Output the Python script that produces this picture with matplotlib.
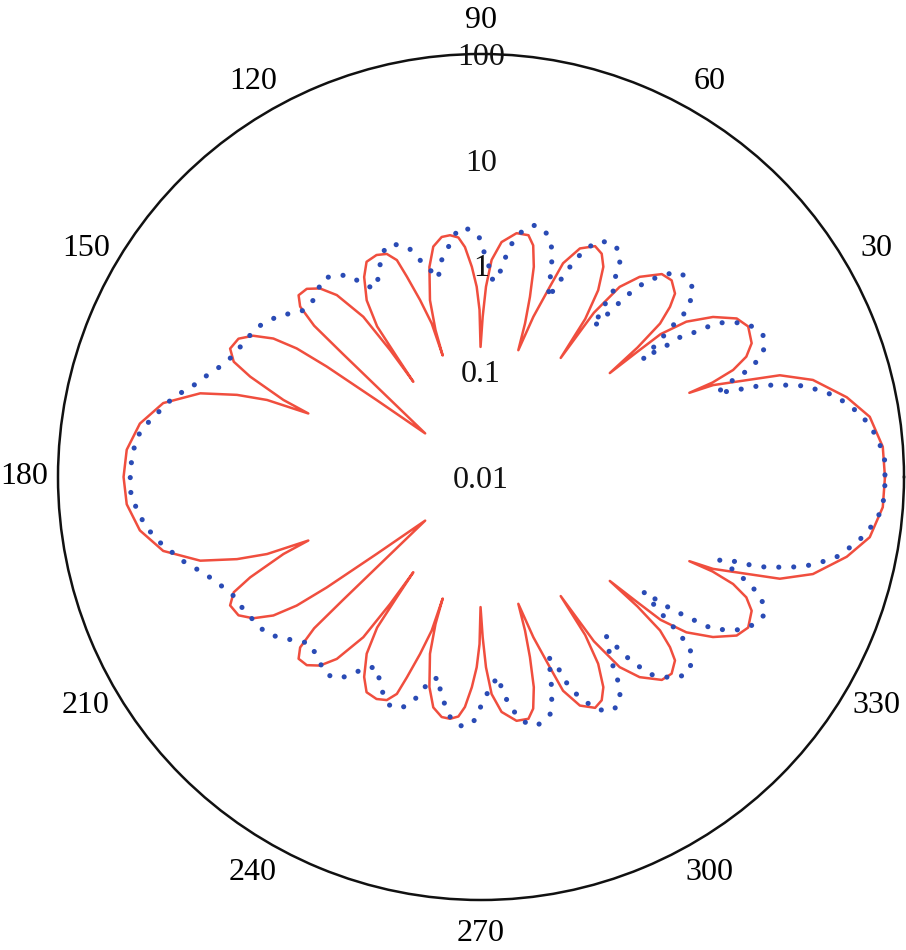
import matplotlib
matplotlib.use("Agg")
import matplotlib.pyplot as plt
import numpy as np
from matplotlib.ticker import NullLocator

plt.rcParams["font.family"] = ["Liberation Serif", "DejaVu Serif"]

# radial axis (log), labels drawn along the 90 deg direction
r_ticks = [0.01, 0.1, 1, 10, 100]
r_tick_labels = ["0.01", "0.1", "1", "10", "100"]
theta_ticks = [0, 30, 60, 90, 120, 150, 180, 210, 240, 270, 300, 330]
theta_tick_labels = ["", "30", "60", "90", "120", "150", "180", "210", "240", "270", "300", "330"]

# red (solid) pattern, angle in degrees, level in dB (20*log10 of the plotted value)
red_deg = [
    0, 4.3, 8.8, 12.3, 16.3, 18.8, 21.6, 22.0,
    22.2, 23.0, 24.4, 26.3, 29.4, 31.8, 34.6, 37.1, 38.5, 38.7, 38.9,
    39.6, 40.6, 42.0, 43.4, 45.9, 48.3, 51.6, 53.9, 55.5, 56.2,
    56.6, 57.9, 59.8, 61.6, 63.7, 66.6, 69.0, 70.1, 71.9, 73.6,
    74.0, 74.8, 75.9, 77.3, 78.9, 81.7, 85.0, 87.2, 88.5, 89.4, 90.2,
    90.5, 91.3, 92.5, 94.0, 95.4, 97.3, 99.3, 101.7, 103.8, 106.1, 107.2, 107.5,
    107.8, 109.0, 110.3, 111.2, 112.9, 115.2, 118.0, 120.3, 122.9, 124.6, 125.0, 125.4,
    125.6, 126.3, 128.4, 130.5, 132.8, 135.1, 136.7, 137.8, 138.3, 139.1, 142.0,
    143.6, 144.4, 145.1, 146.3, 148.2, 150.3, 152.9, 155.0, 156.5, 158.7, 159.8,
    160.2, 161.4, 163.4, 166.9, 171.1, 175.6, 180.0,
    184.4, 188.9, 193.1, 196.6, 198.6, 199.8,
    200.2, 201.3, 203.5, 205.0, 207.1, 209.7, 211.8, 213.7, 214.9, 215.6, 216.4,
    218.0, 220.9, 221.7, 222.2, 223.3, 224.9, 227.2, 229.5, 231.6, 233.7, 234.4,
    234.6, 235.0, 235.4, 237.1, 239.7, 242.0, 244.8, 247.1, 248.8, 249.7, 251.0, 252.2,
    252.5, 252.8, 253.9, 256.2, 258.3, 260.7, 262.7, 264.6, 266.0, 267.5, 268.7, 269.5,
    269.8, 270.6, 271.5, 272.8, 275.0, 278.3, 281.1, 282.7, 284.1, 285.2, 286.0,
    286.4, 288.1, 289.9, 291.0, 293.4, 296.3, 298.4, 300.2, 302.1, 303.4,
    303.8, 304.5, 306.1, 308.4, 311.7, 314.1, 316.6, 318.0, 319.4, 320.4,
    321.1, 321.3, 321.5, 322.9, 325.4, 328.2, 330.6, 333.7, 335.6, 337.0, 337.8,
    338.0, 338.4, 341.2, 343.7, 347.7, 351.2, 355.7, 360.0,
]
red_db = [
    36.4, 36.2, 34.4, 30.8, 25.4, 19.7, 7.2, 2.5,
    7.3, 11.8, 15.1, 17.1, 18.0, 16.9, 13.3, 8.7, 3.4, -2.4, -8.7,
    -1.6, 4.6, 8.1, 10.5, 11.8, 11.4, 8.3, 4.5, -2.3, -12.9,
    -4.2, 1.7, 6.0, 8.0, 8.7, 7.1, 3.3, -1.7, -8.1, -15.0,
    -9.8, -4.7, 1.0, 4.9, 6.6, 6.6, 4.6, 1.1, -4.0, -9.7, -15.4,
    -8.4, -4.0, -0.2, 3.6, 5.5, 6.1, 6.0, 4.5, 0.9, -5.2, -10.9, -15.9,
    -9.5, -4.6, 0.4, 4.0, 5.8, 6.4, 6.1, 3.8, -0.2, -5.4, -12.2, -17.9,
    -10.5, -2.4, 3.9, 6.9, 8.5, 8.7, 7.0, 2.6, -5.0, -13.9, -26.6,
    -15.5, -4.1, 2.5, 7.2, 10.7, 12.8, 13.3, 11.6, 7.6, 0.1, -5.2,
    3.0, 8.7, 15.4, 21.7, 25.3, 27.2, 27.6,
    27.2, 25.3, 21.7, 15.4, 8.7, 3.0,
    -5.2, 0.1, 7.6, 11.6, 13.3, 12.8, 10.7, 7.2, 2.5, -4.1, -15.5,
    -26.6, -13.9, -5.0, 2.6, 7.0, 8.7, 8.5, 6.9, 3.9, -2.4, -10.5,
    -17.9, -12.2, -5.4, -0.2, 3.8, 6.1, 6.4, 5.8, 4.0, 0.4, -4.6, -9.5,
    -15.9, -10.9, -5.2, 0.9, 4.5, 6.0, 6.1, 5.5, 3.6, -0.2, -4.0, -8.4,
    -15.4, -9.7, -4.0, 1.1, 4.6, 6.6, 6.6, 4.9, 1.0, -4.7, -9.8,
    -15.0, -8.1, -1.7, 3.3, 7.1, 8.7, 8.0, 6.0, 1.7, -4.2,
    -12.9, -2.3, 4.5, 8.3, 11.4, 11.8, 10.5, 8.1, 4.6, -1.6,
    -8.7, -2.4, 3.4, 8.7, 13.3, 16.9, 18.0, 17.1, 15.1, 11.8, 7.3,
    2.5, 7.2, 19.7, 25.4, 30.8, 34.4, 36.2, 36.4,
]

# blue (dotted) pattern, angle in degrees, level in dB
blue_deg = [
    0.3, 2.4, 4.6, 6.3, 7.9, 9.5, 11.4, 13.1, 14.3, 15.6, 16.4, 17.2, 18.1, 18.5, 19.0, 19.6,
    21.2, 21.8, 22.9, 24.6, 26.7, 29.5, 31.1, 32.7, 33.6, 34.2, 35.1, 35.3, 35.8, 36.0,
    38.3, 38.7, 39.8, 41.5, 44.2, 46.4, 47.9, 49.4, 50.6, 51.3, 51.8, 52.3, 53.2,
    54.3, 54.5, 56.0, 57.0, 58.6, 61.3, 63.8, 65.4, 66.8, 67.3, 68.5, 69.4,
    70.7, 71.7, 72.8, 74.9, 77.7, 80.0, 82.2, 83.1, 84.4, 85.0,
    87.2, 88.0, 89.4, 90.2, 92.5, 95.2, 98.6, 100.9, 102.1,
    103.8, 105.7, 107.3, 109.6, 112.4, 114.9, 116.5, 119.3,
    121.5, 122.8, 124.9, 128.4, 133.5, 136.5, 138.9, 141.1, 146.3, 154.2, 157.1,
    159.1, 161.0, 163.0, 164.9, 166.8, 168.6, 170.6, 172.4, 174.4, 176.7, 178.9,
    181.3, 183.8, 185.6, 187.8, 189.4, 191.6, 193.2, 195.3, 197.0, 199.1, 200.9,
    203.2, 205.7, 208.6, 211.2, 213.9, 216.7, 219.1, 221.4, 224.2,
    227.2, 231.9, 235.0, 237.0, 239.0, 241.3, 243.4, 245.6, 247.9, 250.9, 253.1,
    254.8, 255.9, 258.5, 259.2, 261.0, 262.6, 265.0, 268.1, 271.0, 272.9, 275.0,
    275.6, 276.9, 278.5, 280.8, 283.0, 286.2, 287.5, 288.6, 289.7, 290.5,
    292.0, 292.6, 293.5, 295.1, 296.9, 299.6, 301.7, 303.5, 304.5, 305.7, 308.2,
    308.6, 309.0, 309.9, 310.9, 312.7, 314.6, 316.6, 318.8, 320.7, 321.6, 322.2, 323.0, 324.0, 324.8,
    325.0, 325.2, 325.7, 326.2, 326.7, 327.9, 329.3, 331.5, 333.8, 335.9, 337.6, 338.7, 339.8, 340.8,
    341.6, 341.9, 342.4, 343.2, 344.0, 345.0, 346.1, 347.3, 348.9, 350.6, 352.5, 354.3, 356.3, 358.2, 360.0,
]
blue_db = [
    36.4, 36.4, 35.7, 34.9, 33.9, 32.6, 30.5, 28.4, 26.1, 23.9, 21.5, 18.8, 15.8, 12.9, 10.1, 7.3,
    11.5, 14.4, 16.9, 19.1, 19.7, 18.4, 16.5, 14.0, 11.2, 8.5, 5.9, 3.1, 0.2, -2.2,
    6.3, 9.0, 11.4, 13.6, 14.3, 13.6, 11.4, 9.1, 6.4, 3.5, 1.0, -1.7, -4.5,
    -0.4, 3.0, 5.3, 8.2, 10.2, 10.7, 9.6, 7.2, 4.3, 2.1, -1.0, -3.9,
    -0.5, 2.6, 5.3, 7.7, 8.8, 7.7, 5.2, 2.9, 0.3, -2.6,
    -2.5, 0.4, 2.9, 5.1, 6.9, 7.2, 3.4, 1.1, -1.6,
    0.3, 2.6, 5.1, 6.7, 7.2, 5.2, 3.0, 0.9,
    2.6, 5.1, 6.6, 8.0, 6.1, 5.9, 7.1, 8.8, 11.0, 12.3, 13.6,
    14.9, 16.2, 17.5, 19.6, 21.0, 22.2, 23.7, 25.0, 25.7, 26.1, 26.3,
    26.4, 26.2, 25.1, 24.4, 23.4, 21.9, 20.5, 19.0, 17.4, 15.5, 14.3,
    13.0, 11.9, 11.5, 11.0, 10.7, 9.9, 8.3, 6.8, 5.1,
    5.9, 7.5, 6.5, 4.3, 2.0, 1.1, 2.9, 4.9, 6.5, 6.3, 4.4,
    1.7, -0.6, -1.2, 1.3, 3.6, 5.7, 7.3, 6.6, 1.8, -0.6, -2.1,
    0.4, 3.1, 5.5, 7.7, 8.1, 6.8, 4.5, 1.8, -1.3, -3.7,
    -1.0, 2.2, 4.5, 7.1, 9.4, 10.7, 10.0, 7.6, 4.7, 1.8, -1.6,
    1.1, 3.8, 6.9, 9.5, 11.5, 13.2, 13.9, 13.0, 11.1, 8.0, 5.6, 2.3, -0.5, -2.4,
    0.5, 3.5, 6.3, 9.1, 12.1, 14.4, 16.6, 18.6, 19.5, 18.5, 16.0, 13.6, 10.8, 7.8,
    10.6, 13.5, 16.3, 19.0, 21.7, 24.4, 26.6, 28.9, 30.7, 32.6, 34.2, 35.5, 36.2, 36.4, 36.4,
]

fig = plt.figure(figsize=(9.06, 9.5), dpi=100)
ax = fig.add_axes([58 / 906, 50 / 950, 846 / 906, 846 / 950], projection="polar")

ax.plot(np.deg2rad(red_deg), 10 ** (np.array(red_db) / 20), color="#f04e3e", lw=1.8, zorder=3)
ax.plot(np.deg2rad(blue_deg), 10 ** (np.array(blue_db) / 20), color="#2a4bb5", lw=3.7,
        linestyle=(0, (0.01, 2.9)), dash_capstyle="round", zorder=4)

ax.set_rscale("log")
ax.set_rlim(0.01, 100)
ax.set_yticks(r_ticks)
ax.set_yticklabels([])
ax.yaxis.set_minor_locator(NullLocator())
ax.grid(False)
ax.spines["polar"].set_linewidth(1.8)
ax.spines["polar"].set_color("#111111")

ax.set_thetagrids(theta_ticks, theta_tick_labels, fontsize=23)
ax.tick_params(axis="x", pad=17, length=0)
ax.tick_params(axis="y", length=0)

for val, lab in zip(r_ticks, r_tick_labels):
    ax.text(np.deg2rad(90), val, lab, ha="center", va="center_baseline", fontsize=23,
            color="#111111", zorder=5)

fig.savefig("out.png", dpi=100)
